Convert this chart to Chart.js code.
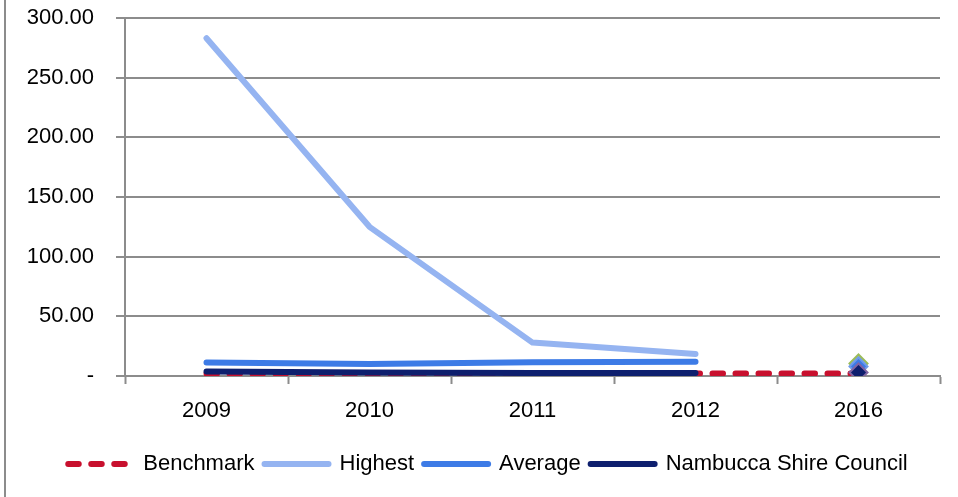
<!DOCTYPE html>
<html lang="en">
<head>
    <meta charset="UTF-8">
    <title>Benchmark comparison</title>
    <script src="https://cdn.jsdelivr.net/npm/chart.js@4.4.0/dist/chart.umd.min.js"></script>
    <style>
        html, body {
            margin: 0;
            padding: 0;
            background-color: #ffffff;
        }
        .frame {
            position: relative;
            width: 958px;
            height: 497px;
        }
        .frame::before {
            content: '';
            position: absolute;
            left: 4px;
            top: 0;
            width: 2px;
            height: 497px;
            background-color: #8c8c8c;
        }
        canvas {
            display: block;
        }
    </style>
</head>
<body>
    <div class="frame">
        <canvas id="benchChart" width="958" height="497"></canvas>
    </div>
    <script>
        const years = ['2009', '2010', '2011', '2012', '2016'];
        const yTicks = [0, 50, 100, 150, 200, 250, 300];

        // 2009-2012 trend lines; 2016 shown as separate markers
        const benchmark = [2, 2, 2, 2, 2];
        const highest = [283, 125, 28, 18.5, null];
        const average = [11.3, 10, 11.5, 12, null];
        const nambucca = [3.8, 3, 2.5, 2.6, null];

        const highest2016 = [null, null, null, null, 10.5];
        const average2016 = [null, null, null, null, 8];
        const nambucca2016 = [null, null, null, null, 3];

        const fontFamily = '"Liberation Sans", Arial, sans-serif';
        const fontSize = 22;
        const axisGrey = '#8c8c8c';

        const red = '#c8102e';
        const lightBlue = '#95b4f1';
        const blue = '#3d7be6';
        const navy = '#0e1f6e';

        function lineSet(label, data, color, order, extra) {
            return Object.assign({
                label: label,
                data: data,
                order: order,
                borderColor: color,
                backgroundColor: color,
                borderWidth: 6,
                borderCapStyle: 'round',
                borderJoinStyle: 'round',
                pointRadius: 0,
                pointHoverRadius: 0,
                tension: 0,
                fill: false,
                spanGaps: false
            }, extra || {});
        }

        function markerSet(label, data, fillColor, edgeColor, order) {
            return {
                label: label,
                data: data,
                order: order,
                showLine: false,
                pointStyle: 'rectRot',
                pointRadius: 9,
                pointHoverRadius: 9,
                pointBorderWidth: 2,
                pointBackgroundColor: fillColor,
                pointBorderColor: edgeColor,
                borderColor: edgeColor,
                backgroundColor: fillColor
            };
        }

        // lower order is painted last, so the council series sits on top
        const datasets = [
            lineSet('Benchmark', benchmark, red, 7, { borderDash: [10.5, 12.5] }),
            lineSet('Highest', highest, lightBlue, 6),
            lineSet('Average', average, blue, 5),
            lineSet('Nambucca Shire Council', nambucca, navy, 4),
            markerSet('Highest 2016', highest2016, lightBlue, '#9bbb59', 3),
            markerSet('Average 2016', average2016, blue, '#6f9bea', 2),
            markerSet('Nambucca 2016', nambucca2016, navy, '#8064a2', 1)
        ];

        const legendCount = 4;

        // the legend row sits a little right of the canvas centre
        const legendShift = {
            id: 'legendShift',
            afterLayout(chart) {
                const lg = chart.legend;
                if (lg) {
                    lg.left += 18;
                    lg.right += 18;
                }
            }
        };

        const ctx = document.getElementById('benchChart').getContext('2d');
        new Chart(ctx, {
            type: 'line',
            data: {
                labels: years,
                datasets: datasets
            },
            plugins: [legendShift],
            options: {
                responsive: false,
                animation: false,
                layout: {
                    autoPadding: false,
                    padding: { left: 0, right: 18, top: 18, bottom: 12 }
                },
                plugins: {
                    tooltip: { enabled: false },
                    legend: {
                        position: 'bottom',
                        labels: {
                            color: '#000000',
                            font: { family: fontFamily, size: fontSize },
                            usePointStyle: true,
                            pointStyleWidth: 64,
                            boxHeight: 6,
                            padding: 10,
                            filter: (item) => item.datasetIndex < legendCount,
                            generateLabels: (chart) => chart.data.datasets.map((ds, i) => ({
                                text: ds.label,
                                datasetIndex: i,
                                pointStyle: 'line',
                                strokeStyle: ds.borderColor,
                                fillStyle: ds.borderColor,
                                lineWidth: 6,
                                lineCap: 'round',
                                lineDash: ds.borderDash || [],
                                fontColor: '#000000',
                                hidden: false
                            }))
                        }
                    }
                },
                scales: {
                    x: {
                        offset: true,
                        afterFit: (axis) => {
                            axis.height = 67;
                            axis.paddingLeft = 0;
                            axis.paddingRight = 0;
                        },
                        border: { color: axisGrey, width: 2 },
                        grid: {
                            offset: true,
                            drawOnChartArea: false,
                            drawTicks: true,
                            tickLength: 8,
                            tickWidth: 2,
                            color: axisGrey
                        },
                        ticks: {
                            color: '#000000',
                            font: { family: fontFamily, size: fontSize },
                            padding: 14,
                            maxRotation: 0
                        }
                    },
                    y: {
                        min: 0,
                        max: 300,
                        afterFit: (axis) => {
                            axis.width = 125;
                            axis.paddingTop = 0;
                            axis.paddingBottom = 0;
                        },
                        afterBuildTicks: (axis) => {
                            axis.ticks = yTicks.map((v) => ({ value: v }));
                        },
                        border: { color: axisGrey, width: 2 },
                        grid: {
                            color: axisGrey,
                            lineWidth: 2,
                            tickLength: 9,
                            tickWidth: 2
                        },
                        ticks: {
                            color: '#000000',
                            font: { family: fontFamily, size: fontSize },
                            padding: 22,
                            callback: (v) => v === 0 ? '-' : v.toFixed(2)
                        }
                    }
                }
            }
        });
    </script>
</body>
</html>
